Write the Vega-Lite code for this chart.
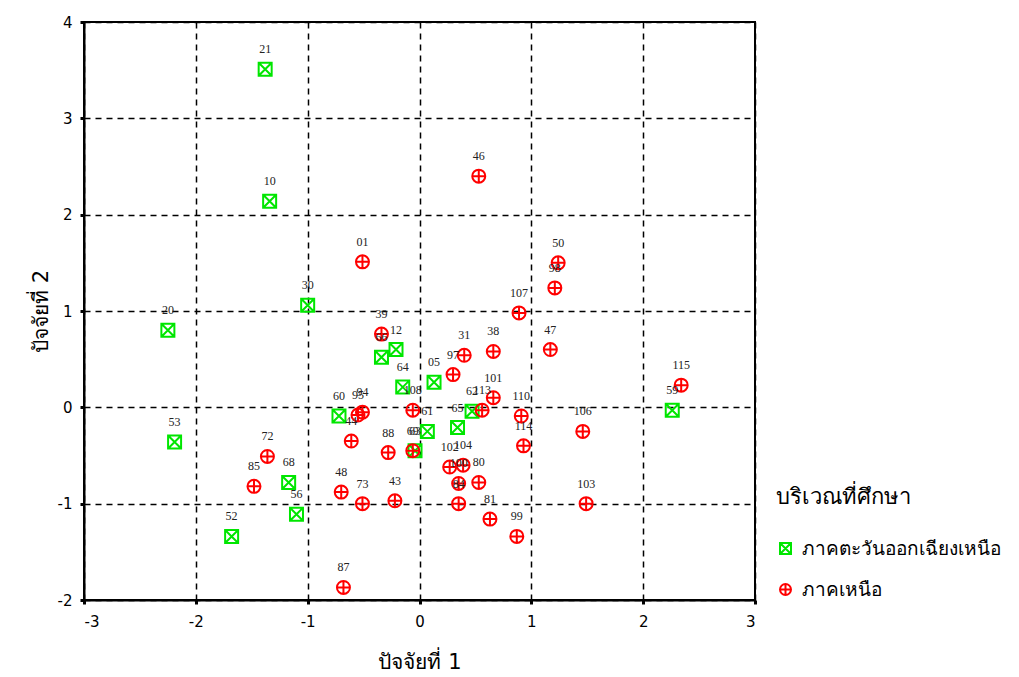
{
  "$schema": "https://vega.github.io/schema/vega-lite/v6.json",
  "autosize": "none",
  "width": 671,
  "height": 578,
  "padding": {"left": 84, "top": 22, "right": 264, "bottom": 77},
  "background": "white",
  "config": {
    "view": {"stroke": "black", "strokeWidth": 2},
    "font": "DejaVu Sans"
  },
  "data": {
    "values": [
      {"id": "21", "f1": -1.38, "f2": 3.51, "region": "ภาคตะวันออกเฉียงเหนือ"},
      {"id": "10", "f1": -1.34, "f2": 2.14, "region": "ภาคตะวันออกเฉียงเหนือ"},
      {"id": "30", "f1": -1.00, "f2": 1.06, "region": "ภาคตะวันออกเฉียงเหนือ"},
      {"id": "20", "f1": -2.25, "f2": 0.80, "region": "ภาคตะวันออกเฉียงเหนือ"},
      {"id": "53", "f1": -2.19, "f2": -0.36, "region": "ภาคตะวันออกเฉียงเหนือ"},
      {"id": "52", "f1": -1.68, "f2": -1.34, "region": "ภาคตะวันออกเฉียงเหนือ"},
      {"id": "68", "f1": -1.17, "f2": -0.78, "region": "ภาคตะวันออกเฉียงเหนือ"},
      {"id": "56", "f1": -1.10, "f2": -1.11, "region": "ภาคตะวันออกเฉียงเหนือ"},
      {"id": "60", "f1": -0.72, "f2": -0.09, "region": "ภาคตะวันออกเฉียงเหนือ"},
      {"id": "12", "f1": -0.21, "f2": 0.60, "region": "ภาคตะวันออกเฉียงเหนือ"},
      {"id": "66", "f1": -0.34, "f2": 0.52, "region": "ภาคตะวันออกเฉียงเหนือ"},
      {"id": "64", "f1": -0.15, "f2": 0.21, "region": "ภาคตะวันออกเฉียงเหนือ"},
      {"id": "05", "f1": 0.13, "f2": 0.26, "region": "ภาคตะวันออกเฉียงเหนือ"},
      {"id": "61", "f1": 0.07, "f2": -0.25, "region": "ภาคตะวันออกเฉียงเหนือ"},
      {"id": "63", "f1": -0.04, "f2": -0.45, "region": "ภาคตะวันออกเฉียงเหนือ"},
      {"id": "65", "f1": 0.34, "f2": -0.21, "region": "ภาคตะวันออกเฉียงเหนือ"},
      {"id": "62", "f1": 0.47, "f2": -0.04, "region": "ภาคตะวันออกเฉียงเหนือ"},
      {"id": "59", "f1": 2.26, "f2": -0.03, "region": "ภาคตะวันออกเฉียงเหนือ"},
      {"id": "46", "f1": 0.53, "f2": 2.40, "region": "ภาคเหนือ"},
      {"id": "01", "f1": -0.51, "f2": 1.51, "region": "ภาคเหนือ"},
      {"id": "50", "f1": 1.24, "f2": 1.50, "region": "ภาคเหนือ"},
      {"id": "98", "f1": 1.21, "f2": 1.24, "region": "ภาคเหนือ"},
      {"id": "107", "f1": 0.89, "f2": 0.98, "region": "ภาคเหนือ"},
      {"id": "47", "f1": 1.17, "f2": 0.60, "region": "ภาคเหนือ"},
      {"id": "115", "f1": 2.34, "f2": 0.23, "region": "ภาคเหนือ"},
      {"id": "39", "f1": -0.34, "f2": 0.76, "region": "ภาคเหนือ"},
      {"id": "31", "f1": 0.40, "f2": 0.54, "region": "ภาคเหนือ"},
      {"id": "38", "f1": 0.66, "f2": 0.58, "region": "ภาคเหนือ"},
      {"id": "97", "f1": 0.30, "f2": 0.34, "region": "ภาคเหนือ"},
      {"id": "101", "f1": 0.66, "f2": 0.10, "region": "ภาคเหนือ"},
      {"id": "113", "f1": 0.56, "f2": -0.03, "region": "ภาคเหนือ"},
      {"id": "110", "f1": 0.91, "f2": -0.09, "region": "ภาคเหนือ"},
      {"id": "114", "f1": 0.93, "f2": -0.40, "region": "ภาคเหนือ"},
      {"id": "106", "f1": 1.46, "f2": -0.25, "region": "ภาคเหนือ"},
      {"id": "103", "f1": 1.49, "f2": -1.00, "region": "ภาคเหนือ"},
      {"id": "99", "f1": 0.87, "f2": -1.34, "region": "ภาคเหนือ"},
      {"id": "81", "f1": 0.63, "f2": -1.16, "region": "ภาคเหนือ"},
      {"id": "80", "f1": 0.53, "f2": -0.78, "region": "ภาคเหนือ"},
      {"id": "104", "f1": 0.39, "f2": -0.60, "region": "ภาคเหนือ"},
      {"id": "102", "f1": 0.27, "f2": -0.62, "region": "ภาคเหนือ"},
      {"id": "100", "f1": 0.35, "f2": -0.79, "region": "ภาคเหนือ"},
      {"id": "84", "f1": 0.35, "f2": -1.00, "region": "ภาคเหนือ"},
      {"id": "108", "f1": -0.06, "f2": -0.03, "region": "ภาคเหนือ"},
      {"id": "94", "f1": -0.51, "f2": -0.05, "region": "ภาคเหนือ"},
      {"id": "95", "f1": -0.55, "f2": -0.08, "region": "ภาคเหนือ"},
      {"id": "44", "f1": -0.61, "f2": -0.35, "region": "ภาคเหนือ"},
      {"id": "88", "f1": -0.28, "f2": -0.47, "region": "ภาคเหนือ"},
      {"id": "48", "f1": -0.70, "f2": -0.88, "region": "ภาคเหนือ"},
      {"id": "73", "f1": -0.51, "f2": -1.00, "region": "ภาคเหนือ"},
      {"id": "43", "f1": -0.22, "f2": -0.97, "region": "ภาคเหนือ"},
      {"id": "87", "f1": -0.68, "f2": -1.87, "region": "ภาคเหนือ"},
      {"id": "72", "f1": -1.36, "f2": -0.51, "region": "ภาคเหนือ"},
      {"id": "85", "f1": -1.48, "f2": -0.82, "region": "ภาคเหนือ"},
      {"id": "69", "f1": -0.06, "f2": -0.45, "region": "ภาคเหนือ"}
    ]
  },
  "encoding": {
    "x": {
      "field": "f1", "type": "quantitative",
      "scale": {"domain": [-3, 3], "nice": false, "zero": false},
      "axis": {
        "title": "ปัจจัยที่ 1", "values": [-3, -2, -1, 0, 1, 2, 3],
        "labelExpr": "replace(datum.label, '−', '-')",
        "grid": true, "gridColor": "black", "gridDash": [6, 5], "gridWidth": 1.5, "gridOpacity": 1,
        "domainColor": "black", "domainWidth": 2,
        "tickColor": "black", "tickSize": 4, "tickWidth": 3,
        "labelFont": "DejaVu Sans", "labelFontSize": 15, "labelColor": "black", "labelPadding": 10,
        "titleFontSize": 21, "titleFontWeight": "normal", "titleColor": "black", "titlePadding": 22
      }
    },
    "y": {
      "field": "f2", "type": "quantitative",
      "scale": {"domain": [-2, 4], "nice": false, "zero": false},
      "axis": {
        "title": "ปัจจัยที่ 2", "values": [-2, -1, 0, 1, 2, 3, 4],
        "labelExpr": "replace(datum.label, '−', '-')",
        "grid": true, "gridColor": "black", "gridDash": [6, 5], "gridWidth": 1.5, "gridOpacity": 1,
        "domainColor": "black", "domainWidth": 2,
        "tickColor": "black", "tickSize": 4, "tickWidth": 3,
        "labelFont": "DejaVu Sans", "labelFontSize": 15, "labelColor": "black", "labelPadding": 8,
        "titleFontSize": 21, "titleFontWeight": "normal", "titleColor": "black", "titlePadding": 6
      }
    }
  },
  "layer": [
    {
      "mark": {"type": "point", "filled": false, "strokeWidth": 2, "size": 169, "opacity": 1},
      "encoding": {
        "color": {
          "field": "region", "type": "nominal",
          "scale": {"domain": ["ภาคตะวันออกเฉียงเหนือ", "ภาคเหนือ"], "range": ["#00e600", "#ff0000"]},
          "legend": {
            "title": "บริเวณที่ศึกษา", "orient": "none", "legendX": 692, "legendY": 465,
            "titleFontSize": 22, "titleFontWeight": "normal", "titleColor": "black", "titlePadding": 30,
            "labelFontSize": 19, "labelColor": "black", "labelLimit": 0, "symbolSize": 121, "symbolStrokeWidth": 2,
            "rowPadding": 21, "labelOffset": 7
          }
        },
        "shape": {
          "field": "region", "type": "nominal",
          "scale": {"domain": ["ภาคตะวันออกเฉียงเหนือ", "ภาคเหนือ"],
            "range": ["M-1,-1H1V1H-1Z M-1,-1L1,1 M1,-1L-1,1", "M-1,0A1,1 0 1,1 1,0A1,1 0 1,1 -1,0Z M-1,0H1 M0,-1V1"]},
          "legend": null
        }
      }
    },
    {
      "mark": {"type": "text", "dy": -20, "font": "Liberation Serif", "fontSize": 12, "color": "#222222"},
      "encoding": {"text": {"field": "id"}}
    }
  ]
}
